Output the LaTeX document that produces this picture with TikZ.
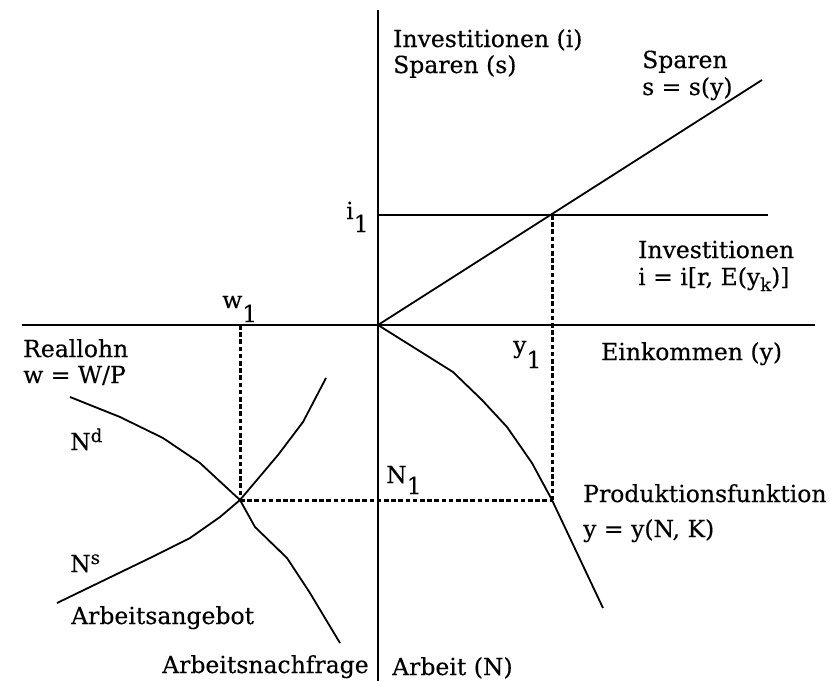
\documentclass[tikz,border=0pt]{standalone}
\usepackage{fontspec}
\setmainfont{DejaVu Serif}
\newfontfamily\lblfont[FakeBold=0.35]{DejaVu Serif}
\newcommand{\lowsub}[2]{\raisebox{-#1pt}{#2}}
\newcommand{\highsup}[1]{\raisebox{8pt}{\fontsize{18}{18}\selectfont #1}}
\begin{document}
\begin{tikzpicture}[x=1pt,y=-1pt,
  curve/.style={line width=1.8pt, line join=round},
  axis/.style={line width=2pt},
  dots/.style={line width=3pt, dash pattern=on 4.5pt off 2.7pt},
  lbl/.style={font=\lblfont\fontsize{23.5}{27}\selectfont, inner sep=0pt, anchor=base west}]
\useasboundingbox (0,0) rectangle (839,681);
% key points
\coordinate (O) at (378,325);
\coordinate (ytop) at (378,10);
\coordinate (ybot) at (378,681);
\coordinate (xl) at (22,325);
\coordinate (xr) at (815,325);
\coordinate (iL) at (378,215);
\coordinate (iR) at (768,215);
\coordinate (sEnd) at (762,80);
\coordinate (E1) at (552,215);
\coordinate (P1) at (552,500);
\coordinate (L1) at (240,500);
\coordinate (W1) at (240,325);
% axes
\draw[axis] (ytop) -- (ybot);
\draw[axis] (xl) -- (xr);
% investment and savings
\draw[curve] (iL) -- (iR);
\draw[curve] (O) -- (sEnd);
% production function
\draw[curve] (O) -- (453,372) -- (482,400) -- (507,427) -- (532,463) -- (P1) -- (603,608);
% labour demand
\draw[curve] (70,397) -- (120,417) -- (163,438) -- (200,463) -- (L1) -- (255,527) -- (287,558) -- (310,593) -- (340,643);
% labour supply
\draw[curve] (57,603) -- (150,558) -- (190,538) -- (220,517) -- (L1) -- (278,455) -- (303,422) -- (326,378);
% dotted guides
\draw[dots] (E1) -- (P1);
\draw[dots] (L1) -- (P1);
\draw[dots] (W1) -- (L1);
% labels
\node[lbl] (tIS1) at (393,47) {Investitionen (i)};
\node[lbl] (tIS2) at (393,73) {Sparen (s)};
\node[lbl] (tS1) at (642,68) {Sparen};
\node[lbl] (tS2) at (642,95) {s = s(y)};
\node[lbl] (ti1) at (346,219) {i\lowsub{13}{1}};
\node[lbl] (tI1) at (638,258) {Investitionen};
\node[lbl] (tI2) at (638,285) {i = i[r, E(y\lowsub{6}{\fontsize{18}{18}\selectfont k})]};
\node[lbl] (tw1) at (222,308) {w\lowsub{14}{1}};
\node[lbl] (tR1) at (23,357) {Reallohn};
\node[lbl] (tR2) at (23,383) {w = W/P};
\node[lbl] (ty1) at (513,353) {y\lowsub{15}{1}};
\node[lbl] (tE) at (601,360) {Einkommen (y)};
\node[lbl] (tNd) at (70,450) {N\highsup{d}};
\node[lbl] (tN1) at (386,483) {N\lowsub{11}{1}};
\node[lbl] (tP) at (583,502) {Produktionsfunktion};
\node[lbl] (tPy) at (583,537) {y = y(N, K)};
\node[lbl] (tNs) at (70,572) {N\highsup{s}};
\node[lbl] (tAA) at (71,624) {Arbeitsangebot};
\node[lbl] (tAN) at (162,673) {Arbeitsnachfrage};
\node[lbl] (tA) at (392,675) {Arbeit (N)};
\end{tikzpicture}
\end{document}
